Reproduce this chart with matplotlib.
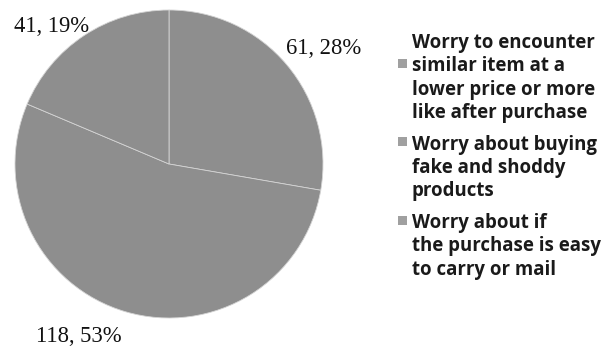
import numpy as np
import matplotlib.pyplot as plt
from matplotlib.patches import Rectangle

# survey counts for each worry, clockwise from 12 o'clock
counts = [61, 118, 41]
percents = [28, 53, 19]
categories = [
    ["Worry to encounter", "similar item at a", "lower price or more", "like after purchase"],
    ["Worry about buying", "fake and shoddy", "products"],
    ["Worry about if", "the purchase is easy", "to carry or mail"],
]
# which line of each legend entry the marker sits next to
marker_line = [1, 0, 0]

slice_color = "#8e8e8e"
W, H = 609, 349

fig = plt.figure(figsize=(W / 100, H / 100), dpi=100)
fig.patch.set_facecolor("white")

# pie centred at (169, 164) px with radius 154 px
cx, cy, r = 169, 164, 154
ax = fig.add_axes([(cx - r) / W, (H - cy - r) / H, 2 * r / W, 2 * r / H])
wedges, _ = ax.pie(counts, startangle=90, counterclock=False,
                   colors=[slice_color] * len(counts),
                   wedgeprops=dict(edgecolor="#d4d4d4", linewidth=0.6))
ax.set_aspect("equal")
ax.set_xlim(-1, 1)
ax.set_ylim(-1, 1)
ax.axis("off")

# value labels outside the slices
label_shift = [-3.4, -11.2, 6.8]   # degrees of nudge from the slice's mid angle
label_dist = [1.25, 1.26, 1.175]
for w, n, p, da, dist in zip(wedges, counts, percents, label_shift, label_dist):
    mid = np.deg2rad((w.theta1 + w.theta2) / 2 + da)
    ax.text(dist * np.cos(mid), dist * np.sin(mid), f"{n}, {p}%",
            ha="center", va="center", fontsize=16.3,
            family="Liberation Serif", color="#111111", clip_on=False)

# legend drawn by hand so markers sit beside a chosen line
line_h = 23.3
group_gap = 8.5
text_x = 412
base = 48
for cat, ml in zip(categories, marker_line):
    for j, line in enumerate(cat):
        fig.text(text_x / W, 1 - (base + j * line_h) / H, line,
                 ha="left", va="baseline", fontsize=13.4,
                 family="Open Sans", weight="bold", color="#1a1a1a")
    my = base + ml * line_h - 8
    fig.add_artist(Rectangle((398 / W, 1 - (my + 4.5) / H), 9 / W, 9 / H,
                             transform=fig.transFigure,
                             facecolor="#a0a0a0", edgecolor="none"))
    base += len(cat) * line_h + group_gap

fig.savefig("out.png", dpi=100)
